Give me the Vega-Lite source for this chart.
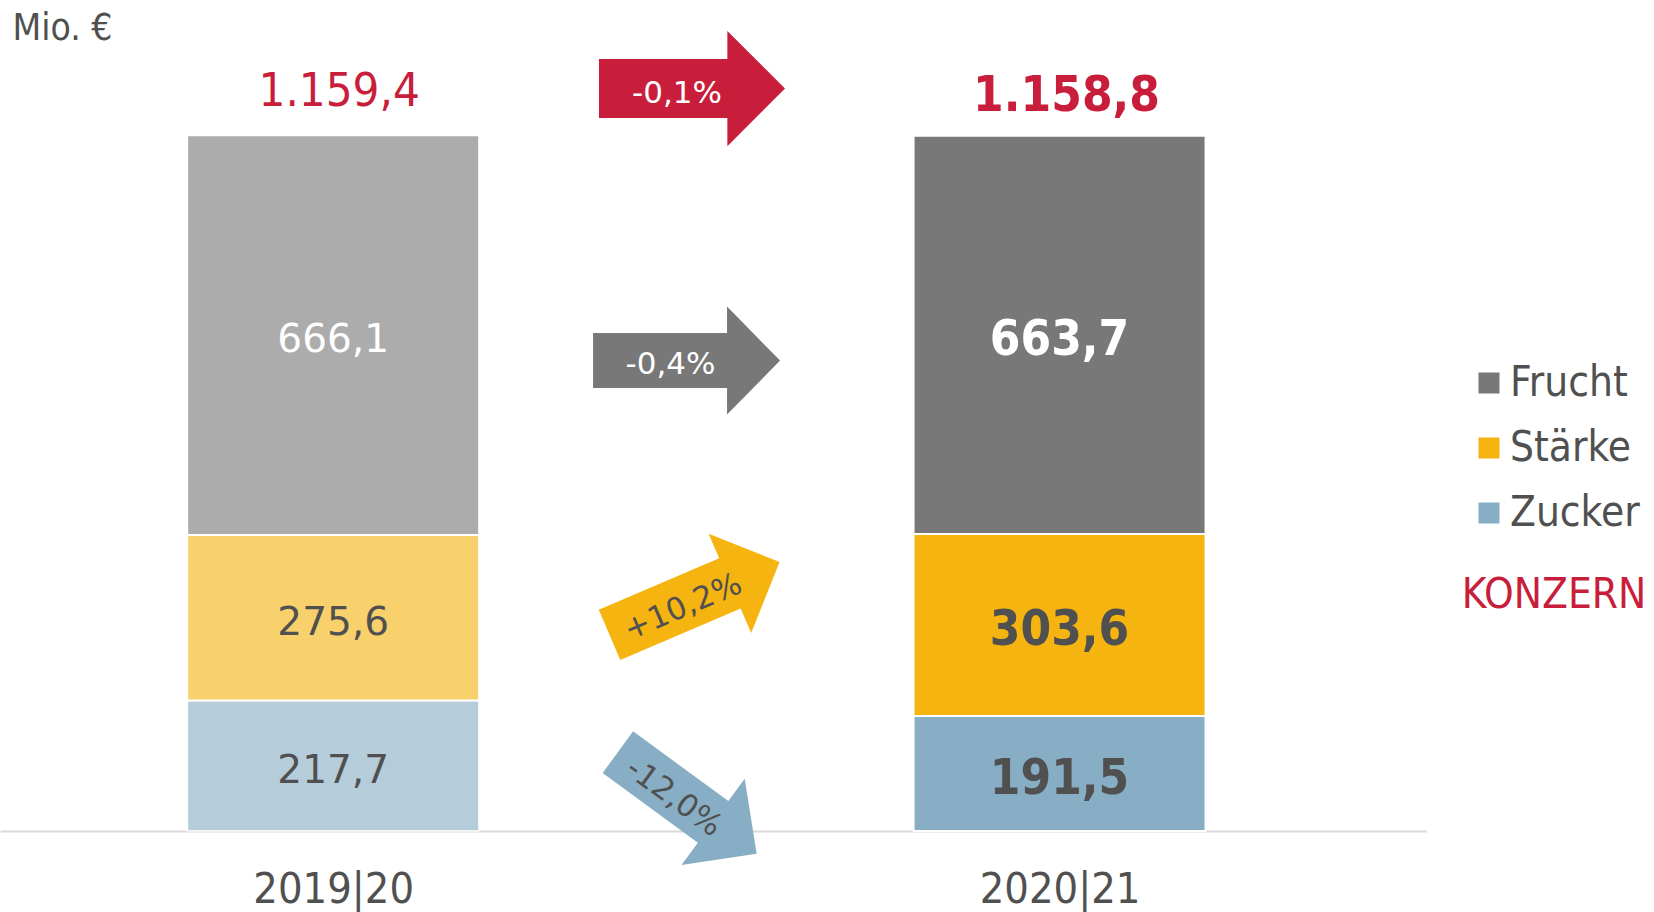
{
  "$schema": "https://vega.github.io/schema/vega-lite/v6.json",
  "width": 1426,
  "height": 831,
  "autosize": {"type": "none"},
  "padding": {"left": 0, "top": 0, "right": 228, "bottom": 81},
  "background": "white",
  "config": {
    "view": {"stroke": null},
    "font": "DejaVu Sans Condensed, DejaVu Sans",
    "locale": {"number": {"decimal": ",", "thousands": ".", "grouping": [3], "currency": ["", " €"]}}
  },
  "datasets": {
    "segments": [
      {"year": "2019|20", "slot": 1, "seg": "Zucker", "order": 1, "value": 217.7},
      {"year": "2019|20", "slot": 1, "seg": "Stärke", "order": 2, "value": 275.6},
      {"year": "2019|20", "slot": 1, "seg": "Frucht", "order": 3, "value": 666.1},
      {"year": "2020|21", "slot": 3, "seg": "Zucker", "order": 1, "value": 191.5},
      {"year": "2020|21", "slot": 3, "seg": "Stärke", "order": 2, "value": 303.6},
      {"year": "2020|21", "slot": 3, "seg": "Frucht", "order": 3, "value": 663.7}
    ],
    "totals": [
      {"year": "2019|20", "slot": 1, "total": 1159.4},
      {"year": "2020|21", "slot": 3, "total": 1158.8}
    ],
    "arrows": [
      {"seg": "Konzern", "change": "-0,1%", "slot": 1.988, "level": 1237.4},
      {"seg": "Frucht", "change": "-0,4%", "slot": 1.973, "level": 784.1},
      {"seg": "Stärke", "change": "+10,2%", "slot": 1.995, "level": 387.5},
      {"seg": "Zucker", "change": "-12,0%", "slot": 1.975, "level": 46.7}
    ]
  },
  "layer": [
    {
      "data": {"name": "segments"},
      "mark": {"type": "bar", "width": 292, "stroke": "white", "strokeWidth": 2},
      "encoding": {
        "x": {
          "field": "slot", "type": "quantitative",
          "scale": {"domain": [0.0964, 3.9952], "nice": false, "zero": false},
          "axis": {
            "values": [1, 3],
            "labelExpr": "datum.value == 1 ? '2019|20' : '2020|21'",
            "title": null, "ticks": false, "tickSize": 0, "grid": false,
            "domainColor": "#d9d9d9", "domainWidth": 2,
            "labelFontSize": 43, "labelColor": "#505050", "labelPadding": 37
          }
        },
        "y": {
          "field": "value", "type": "quantitative", "stack": "zero",
          "scale": {"domain": [0, 1385], "nice": false},
          "axis": {
            "title": "Mio. €", "labels": false, "ticks": false, "domain": false, "grid": false,
            "titleAngle": 0, "titleX": 12, "titleY": 39, "titleAlign": "left",
            "titleBaseline": "alphabetic", "titleFontSize": 37, "titleFontWeight": "normal",
            "titleColor": "#505050"
          }
        },
        "color": {
          "field": "seg", "type": "nominal",
          "scale": {"domain": ["Frucht", "Stärke", "Zucker"], "range": ["#787878", "#f5b410", "#87aec5"]},
          "legend": {
            "orient": "none", "legendX": 1462, "legendY": 362,
            "title": "KONZERN", "titleOrient": "bottom", "titleAnchor": "middle",
            "titleFontSize": 42, "titleColor": "#c81e3c", "titleFontWeight": "normal", "titlePadding": 41, "titleLimit": 0,
            "symbolType": "square", "symbolSize": 441, "symbolStrokeWidth": 0, "symbolOpacity": 1,
            "labelFontSize": 42, "labelColor": "#505050", "labelOffset": 0, "labelLimit": 0, "rowPadding": 23, "padding": 0
          }
        },
        "opacity": {
          "field": "year", "type": "nominal",
          "scale": {"domain": ["2019|20", "2020|21"], "range": [0.61, 1]},
          "legend": null
        },
        "order": {"field": "order", "type": "quantitative"}
      }
    },
    {
      "data": {"name": "segments"},
      "transform": [
        {"stack": "value", "groupby": ["year"], "sort": [{"field": "order"}], "as": ["v0", "v1"]},
        {"calculate": "(datum.v0 + datum.v1) / 2", "as": "mid"},
        {"filter": "datum.year == '2019|20'"}
      ],
      "mark": {"type": "text", "font": "DejaVu Sans", "fontSize": 39, "baseline": "middle", "align": "center", "dy": 5},
      "encoding": {
        "x": {"field": "slot", "type": "quantitative"},
        "y": {"field": "mid", "type": "quantitative"},
        "text": {"field": "value", "type": "quantitative", "format": ",.1f"},
        "color": {"condition": {"test": "datum.seg == 'Frucht'", "value": "white"}, "value": "#505050"}
      }
    },
    {
      "data": {"name": "segments"},
      "transform": [
        {"stack": "value", "groupby": ["year"], "sort": [{"field": "order"}], "as": ["v0", "v1"]},
        {"calculate": "(datum.v0 + datum.v1) / 2", "as": "mid"},
        {"filter": "datum.year == '2020|21'"}
      ],
      "mark": {"type": "text", "fontSize": 49, "fontWeight": "bold", "baseline": "middle", "align": "center", "dy": 5},
      "encoding": {
        "x": {"field": "slot", "type": "quantitative"},
        "y": {"field": "mid", "type": "quantitative"},
        "text": {"field": "value", "type": "quantitative", "format": ",.1f"},
        "color": {"condition": {"test": "datum.seg == 'Frucht'", "value": "white"}, "value": "#505050"}
      }
    },
    {
      "data": {"name": "totals"},
      "transform": [{"filter": "datum.year == '2019|20'"}],
      "mark": {"type": "text", "fontSize": 47, "baseline": "alphabetic", "align": "center", "dy": -29, "dx": 6, "color": "#c81e3c"},
      "encoding": {
        "x": {"field": "slot", "type": "quantitative"},
        "y": {"field": "total", "type": "quantitative"},
        "text": {"field": "total", "type": "quantitative", "format": ",.1f"}
      }
    },
    {
      "data": {"name": "totals"},
      "transform": [{"filter": "datum.year == '2020|21'"}],
      "mark": {"type": "text", "fontSize": 49, "fontWeight": "bold", "baseline": "alphabetic", "align": "center", "dy": -25, "dx": 7, "color": "#c81e3c"},
      "encoding": {
        "x": {"field": "slot", "type": "quantitative"},
        "y": {"field": "total", "type": "quantitative"},
        "text": {"field": "total", "type": "quantitative", "format": ",.1f"}
      }
    },
    {
      "data": {"name": "arrows"},
      "transform": [{"filter": "datum.seg == 'Konzern'"}],
      "mark": {"type": "point", "shape": "M-1,-0.317L0.38,-0.317L0.38,-0.62L1,0L0.38,0.62L0.38,0.317L-1,0.317Z", "size": 34596, "filled": true, "color": "#c81e3c", "opacity": 1, "strokeWidth": 0},
      "encoding": {
        "x": {"field": "slot", "type": "quantitative"},
        "y": {"field": "level", "type": "quantitative"}
      }
    },
    {
      "data": {"name": "arrows"},
      "transform": [{"filter": "datum.seg == 'Frucht'"}],
      "mark": {"type": "point", "shape": "M-1,-0.294L0.433,-0.294L0.433,-0.578L1,0L0.433,0.578L0.433,0.294L-1,0.294Z", "size": 34969, "filled": true, "color": "#787878", "opacity": 1, "strokeWidth": 0},
      "encoding": {
        "x": {"field": "slot", "type": "quantitative"},
        "y": {"field": "level", "type": "quantitative"}
      }
    },
    {
      "data": {"name": "arrows"},
      "transform": [{"filter": "datum.seg == 'Stärke'"}],
      "mark": {"type": "point", "shape": "M-1,-0.295L0.416,-0.295L0.416,-0.584L1,0L0.416,0.584L0.416,0.295L-1,0.295Z", "size": 34225, "angle": 336.8, "filled": true, "color": "#f5b410", "opacity": 1, "strokeWidth": 0},
      "encoding": {
        "x": {"field": "slot", "type": "quantitative"},
        "y": {"field": "level", "type": "quantitative"}
      }
    },
    {
      "data": {"name": "arrows"},
      "transform": [{"filter": "datum.seg == 'Zucker'"}],
      "mark": {"type": "point", "shape": "M-1,-0.3L0.372,-0.3L0.372,-0.622L1,0L0.372,0.622L0.372,0.3L-1,0.3Z", "size": 29584, "angle": 36.2, "filled": true, "color": "#87aec5", "opacity": 1, "strokeWidth": 0},
      "encoding": {
        "x": {"field": "slot", "type": "quantitative"},
        "y": {"field": "level", "type": "quantitative"}
      }
    },
    {
      "data": {"name": "arrows"},
      "transform": [{"filter": "datum.seg == 'Konzern'"}],
      "mark": {"type": "text", "font": "DejaVu Sans", "fontSize": 31, "baseline": "middle", "align": "center", "dx": -15, "dy": 5, "color": "white"},
      "encoding": {
        "x": {"field": "slot", "type": "quantitative"},
        "y": {"field": "level", "type": "quantitative"},
        "text": {"field": "change"}
      }
    },
    {
      "data": {"name": "arrows"},
      "transform": [{"filter": "datum.seg == 'Frucht'"}],
      "mark": {"type": "text", "font": "DejaVu Sans", "fontSize": 31, "baseline": "middle", "align": "center", "dx": -16, "dy": 4, "color": "white"},
      "encoding": {
        "x": {"field": "slot", "type": "quantitative"},
        "y": {"field": "level", "type": "quantitative"},
        "text": {"field": "change"}
      }
    },
    {
      "data": {"name": "arrows"},
      "transform": [{"filter": "datum.seg == 'Stärke'"}],
      "mark": {"type": "text", "font": "DejaVu Sans", "fontSize": 31, "baseline": "middle", "align": "center", "dx": -14, "dy": 4, "angle": 336.8, "color": "#505050"},
      "encoding": {
        "x": {"field": "slot", "type": "quantitative"},
        "y": {"field": "level", "type": "quantitative"},
        "text": {"field": "change"}
      }
    },
    {
      "data": {"name": "arrows"},
      "transform": [{"filter": "datum.seg == 'Zucker'"}],
      "mark": {"type": "text", "font": "DejaVu Sans", "fontSize": 31, "baseline": "middle", "align": "center", "dx": -14, "dy": 4, "angle": 36.2, "color": "#505050"},
      "encoding": {
        "x": {"field": "slot", "type": "quantitative"},
        "y": {"field": "level", "type": "quantitative"},
        "text": {"field": "change"}
      }
    }
  ]
}
